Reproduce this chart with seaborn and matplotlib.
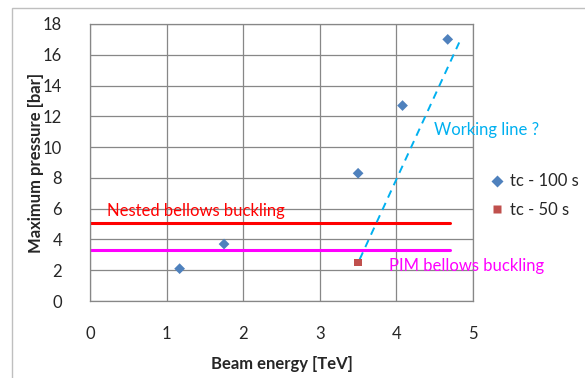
import pandas as pd
import matplotlib.pyplot as plt
import seaborn as sns
from matplotlib.patches import Rectangle

# data
energy_100 = [1.17, 1.75, 3.5, 4.08, 4.67]
pressure_100 = [2.1, 3.7, 8.3, 12.7, 17.0]
energy_50 = [3.5]
pressure_50 = [2.5]
nested_limit = 5.1
pim_limit = 3.3
limit_x = [0.0, 4.7]
working_x = [3.52, 4.82]
working_y = [2.7, 16.8]

sns.set_style("white")
plt.rcParams['font.family'] = ['Lato', 'DejaVu Sans']

df = pd.DataFrame({
    "energy": energy_100 + energy_50,
    "pressure": pressure_100 + pressure_50,
    "series": ["tc - 100 s"] * len(energy_100) + ["tc - 50 s"] * len(energy_50),
})

fig = plt.figure(figsize=(5.85, 3.78), dpi=100)
ax = fig.add_axes([90 / 585, 1 - 301 / 378, 383 / 585, 277 / 378])

ax.plot(limit_x, [nested_limit] * 2, color="#FF0000", lw=2.2, zorder=2)
ax.plot(limit_x, [pim_limit] * 2, color="#FF00FF", lw=2.2, zorder=2)
ax.plot(working_x, working_y, color="#00B0F0", lw=1.4, ls=(0, (4, 3)), zorder=2)

sns.scatterplot(data=df, x="energy", y="pressure", hue="series", style="series",
                markers={"tc - 100 s": "D", "tc - 50 s": "s"},
                palette={"tc - 100 s": "#4F81BD", "tc - 50 s": "#C0504D"},
                s=30, edgecolor="none", ax=ax, zorder=3)

ax.set_xlim(0, 5)
ax.set_ylim(0, 18)
ax.set_xticks(range(0, 6))
ax.set_yticks(range(0, 19, 2))
ax.grid(True, color="#878787", lw=0.9)
ax.set_axisbelow(True)
for s in ax.spines.values():
    s.set_color("#878787")
    s.set_linewidth(0.9)
ax.tick_params(axis="both", labelsize=12, length=6, color="#878787", direction="out")
ax.tick_params(axis="x", pad=12)
ax.tick_params(axis="y", pad=14)
ax.set_xlabel("Beam energy [TeV]", fontsize=12, fontweight="bold", labelpad=10)
ax.set_ylabel("Maximum pressure [bar]", fontsize=12, fontweight="bold")
ax.yaxis.set_label_coords(-0.12, 0.5)

ax.text(0.22, 5.85, "Nested bellows buckling", color="#FF0000", fontsize=12, va="center")
ax.text(3.9, 2.3, "PIM bellows buckling", color="#FF00FF", fontsize=12, va="center")
ax.text(4.49, 11.1, "Working line ?", color="#00B0F0", fontsize=12, va="center")

ax.legend(loc="center left", bbox_to_anchor=(1.045, 0.38), frameon=False,
          fontsize=12, handlelength=0.8, handletextpad=0.4, labelspacing=0.75,
          borderaxespad=0, borderpad=0, markerscale=1.1)

fig.patches.append(Rectangle((12 / 585, -0.1), 1.0, 1 - 8 / 378 + 0.1,
                             transform=fig.transFigure, fill=False,
                             edgecolor="#BFBFBF", lw=1.0))

fig.savefig("out.png", dpi=100)
